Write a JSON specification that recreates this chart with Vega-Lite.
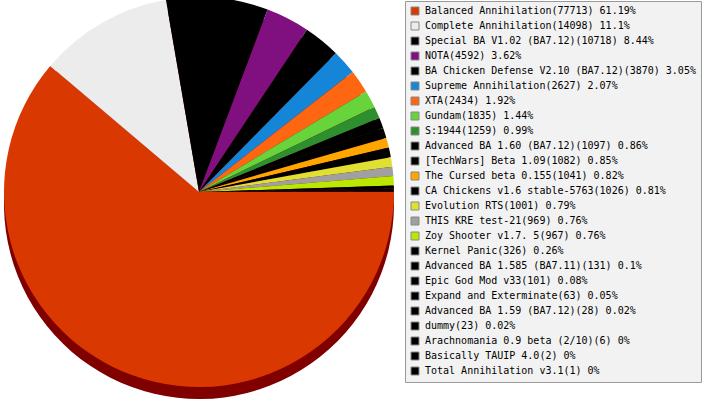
{
  "$schema": "https://vega.github.io/schema/vega-lite/v6.json",
  "autosize": {"type": "none"},
  "padding": {"left": 0, "top": 0, "right": 309, "bottom": 16},
  "width": 398,
  "height": 384,
  "background": "white",
  "config": {"view": {"stroke": null}, "font": "DejaVu Sans Mono", "legend": {"labelFont": "DejaVu Sans Mono"}},
  "data": {
    "values": [
      {"idx": 1, "label": "Balanced Annihilation(77713) 61.19%", "games": 77713},
      {"idx": 2, "label": "Complete Annihilation(14098) 11.1%", "games": 14098},
      {"idx": 3, "label": "Special BA V1.02 (BA7.12)(10718) 8.44%", "games": 10718},
      {"idx": 4, "label": "NOTA(4592) 3.62%", "games": 4592},
      {"idx": 5, "label": "BA Chicken Defense V2.10 (BA7.12)(3870) 3.05%", "games": 3870},
      {"idx": 6, "label": "Supreme Annihilation(2627) 2.07%", "games": 2627},
      {"idx": 7, "label": "XTA(2434) 1.92%", "games": 2434},
      {"idx": 8, "label": "Gundam(1835) 1.44%", "games": 1835},
      {"idx": 9, "label": "S:1944(1259) 0.99%", "games": 1259},
      {"idx": 10, "label": "Advanced BA 1.60 (BA7.12)(1097) 0.86%", "games": 1097},
      {"idx": 11, "label": "[TechWars] Beta 1.09(1082) 0.85%", "games": 1082},
      {"idx": 12, "label": "The Cursed beta 0.155(1041) 0.82%", "games": 1041},
      {"idx": 13, "label": "CA Chickens v1.6 stable-5763(1026) 0.81%", "games": 1026},
      {"idx": 14, "label": "Evolution RTS(1001) 0.79%", "games": 1001},
      {"idx": 15, "label": "THIS KRE test-21(969) 0.76%", "games": 969},
      {"idx": 16, "label": "Zoy Shooter v1.7. 5(967) 0.76%", "games": 967},
      {"idx": 17, "label": "Kernel Panic(326) 0.26%", "games": 326},
      {"idx": 18, "label": "Advanced BA 1.585 (BA7.11)(131) 0.1%", "games": 131},
      {"idx": 19, "label": "Epic God Mod v33(101) 0.08%", "games": 101},
      {"idx": 20, "label": "Expand and Exterminate(63) 0.05%", "games": 63},
      {"idx": 21, "label": "Advanced BA 1.59 (BA7.12)(28) 0.02%", "games": 28},
      {"idx": 22, "label": "dummy(23) 0.02%", "games": 23},
      {"idx": 23, "label": "Arachnomania 0.9 beta (2/10)(6) 0%", "games": 6},
      {"idx": 24, "label": "Basically TAUIP 4.0(2) 0%", "games": 2},
      {"idx": 25, "label": "Total Annihilation v3.1(1) 0%", "games": 1}
    ]
  },
  "encoding": {
    "theta": {"field": "games", "type": "quantitative", "stack": true, "scale": {"range": [1.5707963, 7.8539816]}},
    "order": {"field": "idx", "type": "quantitative"}
  },
  "layer": [
    {
      "mark": {"type": "arc", "radius": 195, "yOffset": 12, "color": "#800000"}
    },
    {
      "mark": {"type": "arc", "radius": 195},
      "encoding": {
        "color": {
          "field": "label",
          "type": "nominal",
          "sort": null,
          "scale": {
            "domain": [
              "Balanced Annihilation(77713) 61.19%",
              "Complete Annihilation(14098) 11.1%",
              "Special BA V1.02 (BA7.12)(10718) 8.44%",
              "NOTA(4592) 3.62%",
              "BA Chicken Defense V2.10 (BA7.12)(3870) 3.05%",
              "Supreme Annihilation(2627) 2.07%",
              "XTA(2434) 1.92%",
              "Gundam(1835) 1.44%",
              "S:1944(1259) 0.99%",
              "Advanced BA 1.60 (BA7.12)(1097) 0.86%",
              "[TechWars] Beta 1.09(1082) 0.85%",
              "The Cursed beta 0.155(1041) 0.82%",
              "CA Chickens v1.6 stable-5763(1026) 0.81%",
              "Evolution RTS(1001) 0.79%",
              "THIS KRE test-21(969) 0.76%",
              "Zoy Shooter v1.7. 5(967) 0.76%",
              "Kernel Panic(326) 0.26%",
              "Advanced BA 1.585 (BA7.11)(131) 0.1%",
              "Epic God Mod v33(101) 0.08%",
              "Expand and Exterminate(63) 0.05%",
              "Advanced BA 1.59 (BA7.12)(28) 0.02%",
              "dummy(23) 0.02%",
              "Arachnomania 0.9 beta (2/10)(6) 0%",
              "Basically TAUIP 4.0(2) 0%",
              "Total Annihilation v3.1(1) 0%"
            ],
            "range": [
              "#d93800", "#ececec", "#000000", "#800f80", "#000000",
              "#1585d8", "#ff6611", "#66d43a", "#2e8f2e", "#000000",
              "#000000", "#ffa500", "#000000", "#e0e030", "#a0a0a0",
              "#bbe800", "#000000", "#000000", "#000000", "#000000",
              "#000000", "#000000", "#000000", "#000000", "#000000"
            ]
          },
          "legend": {
            "orient": "none",
            "legendX": 405,
            "legendY": 1,
            "title": null,
            "fillColor": "#f2f2f2",
            "strokeColor": "#999999",
            "padding": 5,
            "symbolType": "square",
            "symbolSize": 64,
            "symbolStrokeColor": "#888888",
            "symbolStrokeWidth": 1,
            "labelFont": "DejaVu Sans Mono",
            "labelFontSize": 10,
            "labelColor": "#000000",
            "labelOffset": 5,
            "labelLimit": 400,
            "rowPadding": 3
          }
        }
      }
    }
  ]
}
